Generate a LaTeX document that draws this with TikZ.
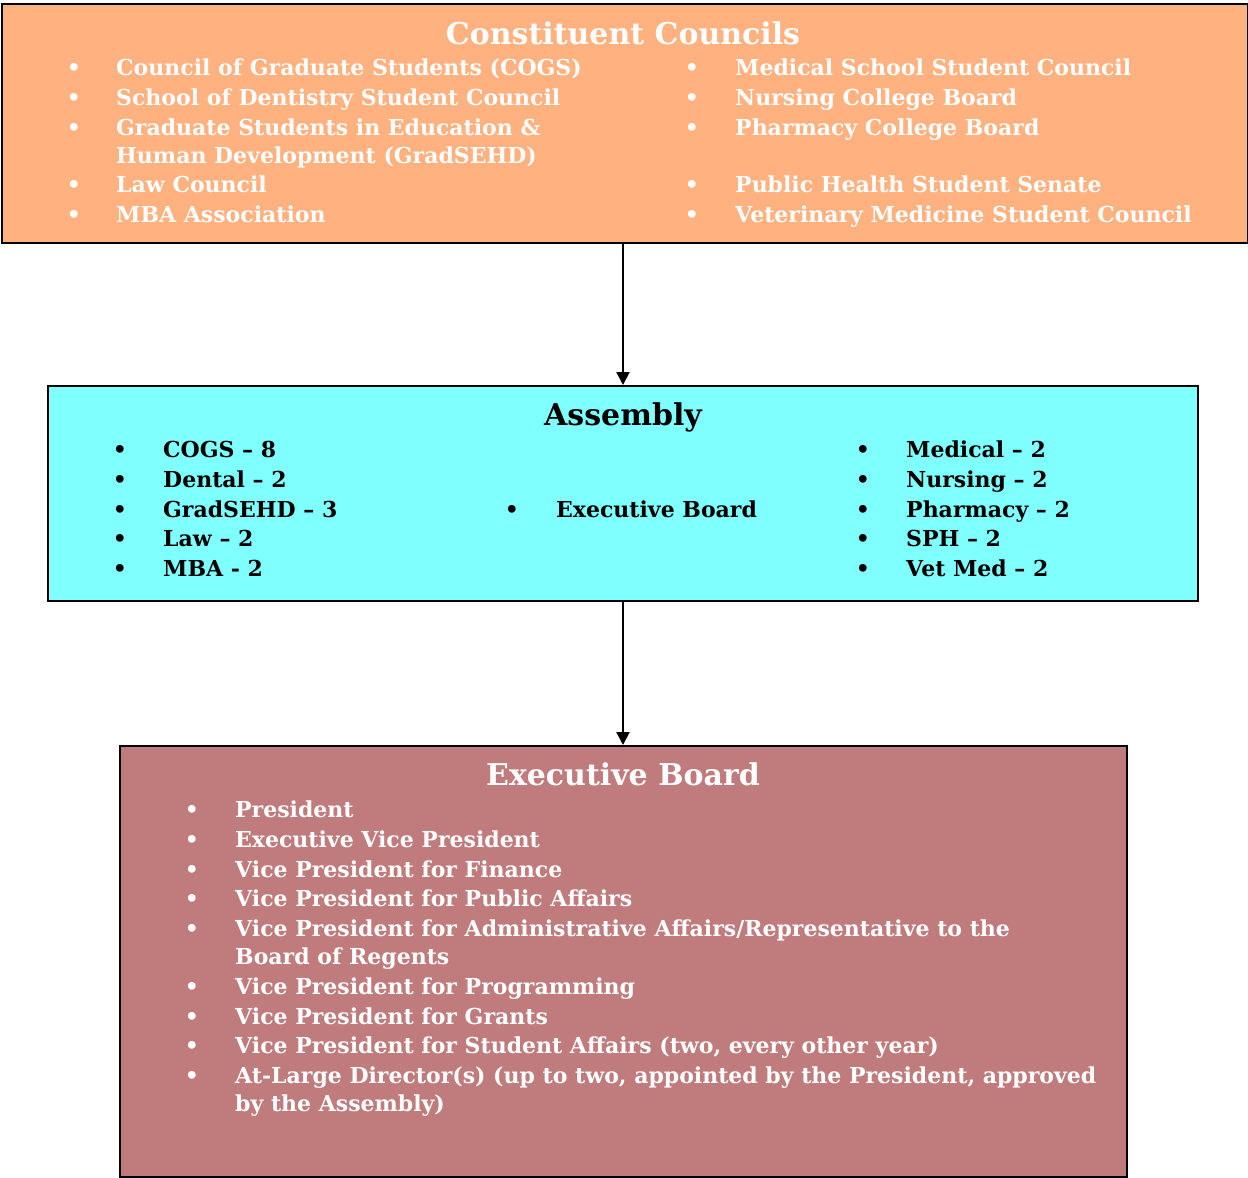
\documentclass[tikz,border=0pt]{standalone}
\usepackage{fontspec}
\setmainfont{DejaVu Serif}
\usetikzlibrary{arrows.meta}
\definecolor{councilfill}{RGB}{255,177,128}
\definecolor{assemblyfill}{RGB}{128,255,255}
\definecolor{boardfill}{RGB}{192,124,125}
\newcommand{\bodysize}{\fontsize{22}{26}\selectfont\bfseries}
\newcommand{\titlesize}{\fontsize{30}{34}\selectfont\bfseries}
\tikzset{
  box/.style={draw=black, line width=2pt},
  item/.style={anchor=base west, inner sep=0pt, font=\bodysize},
  bul/.style={anchor=base, inner sep=0pt, font=\bodysize},
  ttl/.style={anchor=base, inner sep=0pt, font=\titlesize},
  link/.style={draw=black, line width=2pt, -{Triangle[length=13pt,width=13pt]}}
}
\begin{document}
\begin{tikzpicture}[x=1pt,y=-1pt]
\useasboundingbox (0,0) rectangle (1248,1178);
% boxes
\node[box, fill=councilfill, minimum width=1246pt, minimum height=239pt, anchor=north west, inner sep=0pt] (cc) at (1,3) {};
\node[box, fill=assemblyfill, minimum width=1150pt, minimum height=215pt, anchor=north west, inner sep=0pt] (as) at (47,385) {};
\node[box, fill=boardfill, minimum width=1007pt, minimum height=431pt, anchor=north west, inner sep=0pt] (eb) at (119,745) {};
\draw[link] (as.north |- cc.south) -- (as.north);
\draw[link] (as.south) -- (as.south |- eb.north);

% Constituent Councils
\begin{scope}[every node/.append style={text=white}]
\node[ttl] (cct) at (623,44) {Constituent Councils};
\foreach \y/\t [count=\i] in {75/{Council of Graduate Students (COGS)}, 105/{School of Dentistry Student Council}, 135/{Graduate Students in Education \&}, 163/{Human Development (GradSEHD)}, 192/{Law Council}, 222/{MBA Association}}{
  \node[item] (ccl\i) at (116,\y) {\t};
}
\foreach \y [count=\i] in {75,105,135,192,222}{
  \node[bul] (cclb\i) at (74,\y) {•};
}
\foreach \y/\t [count=\i] in {75/{Medical School Student Council}, 105/{Nursing College Board}, 135/{Pharmacy College Board}, 192/{Public Health Student Senate}, 222/{Veterinary Medicine Student Council}}{
  \node[item] (ccr\i) at (735,\y) {\t};
  \node[bul] (ccrb\i) at (692,\y) {•};
}
\end{scope}

% Assembly
\node[ttl] (ast) at (623,425) {Assembly};
\foreach \y/\t [count=\i] in {457/{COGS – 8}, 487/{Dental – 2}, 517/{GradSEHD – 3}, 546/{Law – 2}, 576/{MBA - 2}}{
  \node[item] (asl\i) at (163,\y) {\t};
  \node[bul] (aslb\i) at (120,\y) {•};
}
\node[item] (asm) at (556,517) {Executive Board};
\node[bul] (asmb) at (512,517) {•};
\foreach \y/\t [count=\i] in {457/{Medical – 2}, 487/{Nursing – 2}, 517/{Pharmacy – 2}, 546/{SPH – 2}, 576/{Vet Med – 2}}{
  \node[item] (asr\i) at (906,\y) {\t};
  \node[bul] (asrb\i) at (863,\y) {•};
}

% Executive Board
\begin{scope}[every node/.append style={text=white}]
\node[ttl] (ebt) at (623,785) {Executive Board};
\foreach \y/\t [count=\i] in {817/{President}, 847/{Executive Vice President}, 877/{Vice President for Finance}, 906/{Vice President for Public Affairs}, 936/{Vice President for Administrative Affairs/Representative to the}, 964/{Board of Regents}, 994/{Vice President for Programming}, 1024/{Vice President for Grants}, 1053/{Vice President for Student Affairs (two, every other year)}, 1083/{At-Large Director(s) (up to two, appointed by the President, approved}, 1111/{by the Assembly)}}{
  \node[item] (ebl\i) at (235,\y) {\t};
}
\foreach \y [count=\i] in {817,847,877,906,936,994,1024,1053,1083}{
  \node[bul] (eblb\i) at (192,\y) {•};
}
\end{scope}
\end{tikzpicture}
\end{document}
